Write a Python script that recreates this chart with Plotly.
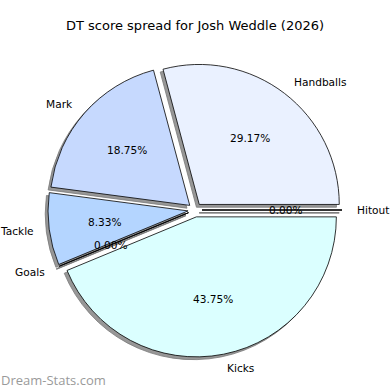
import math
import plotly.graph_objects as go

labels = ["Handballs", "Mark", "Tackle", "Goals", "Kicks", "Hitout"]
values = [14, 9, 4, 0, 21, 0]
colors = ["#eaf1ff", "#c6d9fe", "#b4d5ff", "#e0e0ff", "#dbffff", "#f0f0ff"]
explode = [0.05, 0.05, 0.05, 0.05, 0.05, 0.05]
title_text = "DT score spread for Josh Weddle (2026)"
watermark = "Dream-Stats.com"

W = H = 390
cx, cy = 195, 210          # pie centre in px (from top-left)
R = 140                    # radius in px
PULL = max(explode)
half = R * (1 + PULL)
dom_x = [(cx - half) / W, (cx + half) / W]
dom_y = [1 - (cy + half) / H, 1 - (cy - half) / H]
SH = 0.02                  # shadow offset (radius units)
sdom_x = [dom_x[0] - SH * R / W, dom_x[1] - SH * R / W]
sdom_y = [dom_y[0] - SH * R / H, dom_y[1] - SH * R / H]

font = "DejaVu Sans"
FS = 10.6
common = dict(labels=labels, values=values, sort=False, direction="counterclockwise",
              rotation=-15, pull=explode, hoverinfo="skip", showlegend=False)

fig = go.Figure()

# zero-valued wedges are drawn by matplotlib as bare radial lines
total = sum(values)
mids = []
acc = 0.0
for v in values:
    t1 = 360.0 * acc / total
    acc += v
    t2 = 360.0 * acc / total
    mids.append(math.radians((t1 + t2) / 2))
zx, zy, sx, sy = [], [], [], []
for v, th, e in zip(values, mids, explode):
    if v == 0:
        for r in (e, e + 1):
            zx.append(r * math.cos(th)); zy.append(r * math.sin(th))
            sx.append(r * math.cos(th) - SH); sy.append(r * math.sin(th) - SH)
        zx.append(None); zy.append(None); sx.append(None); sy.append(None)
fig.add_trace(go.Scatter(x=sx, y=sy, mode="lines", line=dict(color="#959595", width=1.6),
                         hoverinfo="skip", showlegend=False))
fig.add_trace(go.Scatter(x=zx, y=zy, mode="lines", line=dict(color="black", width=0.9),
                         hoverinfo="skip", showlegend=False))

# shadow
fig.add_trace(go.Pie(**common, domain=dict(x=sdom_x, y=sdom_y),
                     marker=dict(colors=["#979797"] * len(values),
                                 line=dict(color="#7a7a7a", width=0.8)),
                     textinfo="none"))
# main wedges
fig.add_trace(go.Pie(**common, domain=dict(x=dom_x, y=dom_y),
                     marker=dict(colors=colors, line=dict(color="black", width=0.8)),
                     textinfo="none"))

annotations = []
for lab, v, th, e in zip(labels, values, mids, explode):
    xl = (e + 1.1) * math.cos(th)
    yl = (e + 1.1) * math.sin(th)
    annotations.append(dict(text=lab, x=xl, y=yl, xref="x", yref="y",
                            xanchor="left" if xl > 0 else "right", yanchor="middle",
                            showarrow=False, borderpad=0,
                            font=dict(family=font, size=FS, color="black")))
    xp = (e + 0.6) * math.cos(th)
    yp = (e + 0.6) * math.sin(th)
    annotations.append(dict(text=f"{100.0 * v / total:.2f}%", x=xp, y=yp, xref="x", yref="y",
                            xanchor="center", yanchor="middle", showarrow=False, borderpad=0,
                            font=dict(family=font, size=FS, color="black")))
annotations.append(dict(text=watermark, x=0, y=1 - 380 / H, xref="paper", yref="paper",
                        xanchor="left", yanchor="middle", showarrow=False, borderpad=0,
                        font=dict(family="Open Sans", size=13, color="#9a9a9a")))

fig.update_layout(
    width=W, height=H, margin=dict(l=0, r=0, t=0, b=0),
    paper_bgcolor="white", plot_bgcolor="white",
    xaxis=dict(range=[-cx / R, (W - cx) / R], visible=False, fixedrange=True),
    yaxis=dict(range=[-(H - cy) / R, cy / R], visible=False, fixedrange=True),
    title=dict(text=title_text, x=0.5, xanchor="center", y=1 - 25 / H, yanchor="middle",
               font=dict(family=font, size=13, color="black")),
    annotations=annotations,
)
fig.write_html("out.html", config={"displayModeBar": False},
               post_script="document.body.style.margin='0';")
